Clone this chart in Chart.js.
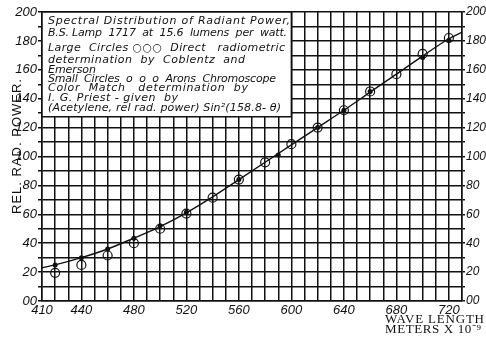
<!DOCTYPE html>
<html>
<head>
<meta charset="utf-8">
<script src="https://cdn.jsdelivr.net/npm/chart.js@4/dist/chart.umd.min.js"></script>
<style>
  html, body { margin: 0; padding: 0; background: #fff; }
  canvas { display: block; }
</style>
</head>
<body>
<canvas id="chart" width="486" height="337"></canvas>
<script>
// smooth curve
const curveX = [410, 420, 440, 460, 480, 500, 520, 540, 560, 580, 600, 620, 640, 660, 680, 700, 720, 730];
const curveY = [23, 25, 30, 36, 43.5, 51.5, 61, 72, 84, 96, 108, 120, 132, 144.5, 157, 169.5, 181.5, 186];

// large circles: Coblentz and Emerson
const largeX = [420, 440, 460, 480, 500, 520, 540, 560, 580, 600, 620, 640, 660, 680, 700, 720];
const largeY = [19.5, 25, 31.5, 40, 50, 60.5, 71.5, 84, 96, 108.5, 120, 132, 145, 157, 171, 182];

// small circles: Arons chromoscope (Priest)
const smallX = [420, 440, 460, 480, 500, 520, 560, 590, 620, 640, 660, 700, 720];
const smallY = [25, 30, 36, 43.5, 52, 61.5, 84, 101, 120, 132, 145, 168.5, 180.5];

const xLabels = [410, 440, 480, 520, 560, 600, 640, 680, 720];
const yLabels = [0, 20, 40, 60, 80, 100, 120, 140, 160, 180, 200];

const noteLines = [
  "Spectral Distribution of Radiant Power,",
  "B.S. Lamp  1717  at  15.6  lumens  per  watt.",
  "Large  Circles \u25CB\u25CB\u25CB  Direct   radiometric",
  "determination  by  Coblentz  and",
  "Emerson",
  "Small  Circles  o  o  o  Arons  Chromoscope",
  "Color  Match   determination  by",
  "I. G. Priest - given  by",
  "(Acetylene, rel rad. power) Sin\u00B2(158.8- \u03B8)"
];
const noteTop = [21, 33, 48, 60, 70, 79, 88, 98, 108];
const noteWidth = [242, 239, 237, 197, 48, 228, 200, 130, 233];

function pts(xs, ys) {
  return xs.map((x, i) => ({ x: x, y: ys[i] }));
}

function yTick(v) {
  if (!yLabels.includes(v)) return "";
  return v === 0 ? "00" : String(v);
}

function fitText(ctx, text, x, y, width) {
  ctx.letterSpacing = "0px";
  const w = ctx.measureText(text).width;
  const gap = text.length > 1 ? (width - w) / (text.length - 1) : 0;
  ctx.letterSpacing = Math.max(gap, -1) + "px";
  ctx.fillText(text, x, y);
  ctx.letterSpacing = "0px";
}

const notePlugin = {
  id: "notes",
  beforeDatasetsDraw(chart) {
    const ctx = chart.ctx;
    const xs = chart.scales.x;
    const ys = chart.scales.y;
    const left = xs.getPixelForValue(410);
    const right = xs.getPixelForValue(600);
    const top = ys.getPixelForValue(200);
    const bottom = ys.getPixelForValue(127.5);
    ctx.save();
    ctx.fillStyle = "#fff";
    ctx.fillRect(left, top, right - left, bottom - top);
    ctx.strokeStyle = "#111";
    ctx.lineWidth = 1.5;
    ctx.strokeRect(left, top, right - left, bottom - top);

    ctx.fillStyle = "#111";
    ctx.textBaseline = "middle";
    ctx.textAlign = "left";
    ctx.font = "italic 11px 'DejaVu Sans'";
    noteLines.forEach((line, i) => {
      fitText(ctx, line, left + 6, noteTop[i], noteWidth[i]);
    });
    ctx.restore();
  },
  afterDraw(chart) {
    const ctx = chart.ctx;
    ctx.save();
    ctx.fillStyle = "#111";
    ctx.textBaseline = "middle";
    ctx.textAlign = "left";
    ctx.font = "13px 'Liberation Serif'";
    fitText(ctx, "WAVE LENGTH", 385, 320, 99);
    fitText(ctx, "METERS X 10\u207B\u2079", 385, 330, 96);

    ctx.translate(17, 146);
    ctx.rotate(-Math.PI / 2);
    ctx.textAlign = "center";
    ctx.font = "13px 'Liberation Sans'";
    ctx.letterSpacing = "1px";
    ctx.fillText("REL. RAD. POWER.", 0, 0);
    ctx.restore();
  }
};

const grid = { color: "#111", lineWidth: 1.5, tickColor: "#111" };
const tickFont = { family: "'Liberation Sans'", size: 13, style: "italic" };
const rightFont = { family: "'Liberation Sans'", size: 12, style: "italic" };

new Chart(document.getElementById("chart"), {
  type: "scatter",
  data: {
    datasets: [
      {
        type: "line",
        data: pts(curveX, curveY),
        borderColor: "#111",
        borderWidth: 1.4,
        pointRadius: 0,
        tension: 0.4,
        cubicInterpolationMode: "monotone",
        fill: false
      },
      {
        data: pts(largeX, largeY),
        pointStyle: "circle",
        pointRadius: 4.5,
        borderColor: "#111",
        borderWidth: 1.2,
        backgroundColor: "rgba(0,0,0,0)"
      },
      {
        data: pts(smallX, smallY),
        pointStyle: "circle",
        pointRadius: 2.5,
        borderColor: "#111",
        borderWidth: 0,
        backgroundColor: "#111"
      }
    ]
  },
  options: {
    responsive: false,
    animation: false,
    layout: { padding: { top: 12, left: 0, right: 0, bottom: 0 } },
    plugins: {
      legend: { display: false },
      tooltip: { enabled: false }
    },
    scales: {
      x: {
        type: "linear",
        min: 410,
        max: 730,
        grid: { ...grid, drawTicks: false },
        border: { color: "#111", width: 1.5 },
        ticks: {
          stepSize: 10,
          autoSkip: false,
          maxRotation: 0,
          padding: 2,
          color: "#111",
          font: tickFont,
          callback: v => (xLabels.includes(v) ? String(v) : "")
        },
        afterFit: s => { s.height = 36; }
      },
      y: {
        position: "left",
        min: 0,
        max: 200,
        grid: { ...grid, tickLength: 4 },
        border: { color: "#111", width: 1.5 },
        ticks: {
          stepSize: 10,
          autoSkip: false,
          padding: 1,
          color: "#111",
          font: tickFont,
          callback: yTick
        },
        afterFit: s => { s.width = 42; }
      },
      y2: {
        position: "right",
        min: 0,
        max: 200,
        grid: { ...grid, drawOnChartArea: false, tickLength: 3 },
        border: { color: "#111", width: 1.5 },
        ticks: {
          stepSize: 10,
          autoSkip: false,
          padding: 1,
          color: "#111",
          font: rightFont,
          callback: yTick
        },
        afterFit: s => { s.width = 24; }
      }
    }
  },
  plugins: [notePlugin]
});
</script>
</body>
</html>
